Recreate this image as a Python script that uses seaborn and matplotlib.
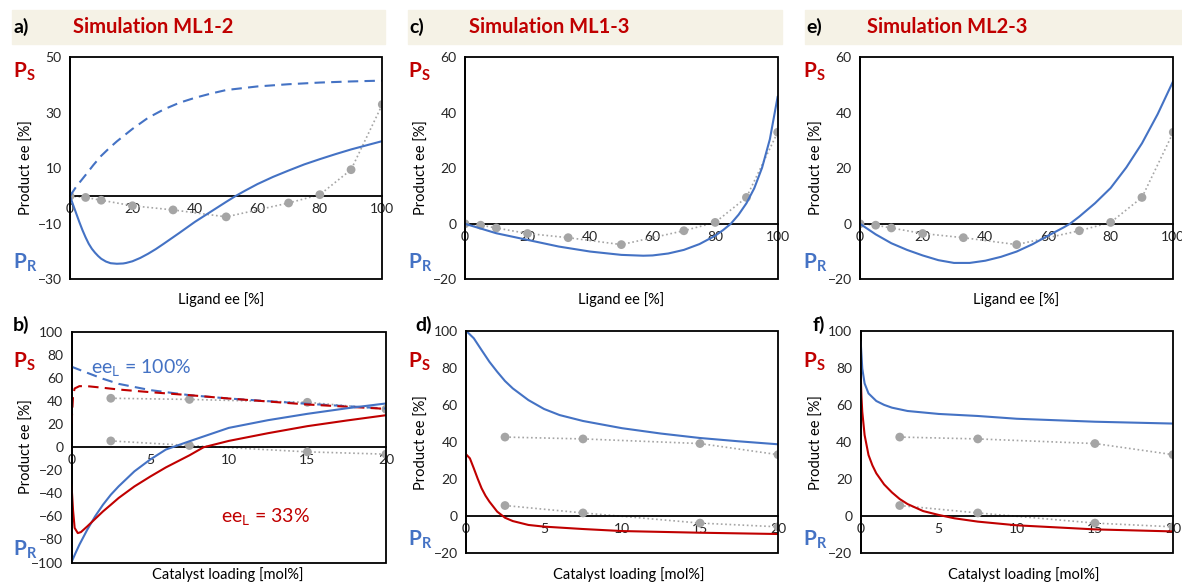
import matplotlib
matplotlib.use("Agg")
import matplotlib.pyplot as plt
import seaborn as sns
from matplotlib.patches import Rectangle

# ---------------- data ----------------
lig_x = [0, 5, 10, 20, 33, 50, 70, 80, 90, 100]
lig_exp = [0, -0.5, -1.5, -3.5, -5, -7.5, -2.5, 0.5, 9.5, 33]

cat_x = [2.5, 7.5, 15, 20]
cat_exp_100 = [42.5, 41.5, 39, 33]
cat_exp_33 = [5.5, 1.5, -4, -6]

# panel a (ML1-2 vs ligand ee)
a_sol_x = [0, 1, 2, 3, 4, 5, 6, 7, 8, 9, 10, 11.5, 13, 15, 17, 18, 20, 22.5, 25, 27.5, 30, 35, 40,
           45, 50, 53, 56, 60, 65, 70, 75, 80, 85, 90, 95, 100]
a_sol_y = [0, -3.2, -6.3, -9.4, -12.3, -14.9, -17.2, -19.0, -20.4, -21.6, -22.6, -23.6, -24.2,
           -24.4, -24.3, -24.1, -23.5, -22.3, -20.8, -19.1, -17.2, -13.3, -9.3, -5.7, -2.1, 0, 1.9,
           4.3, 6.9, 9.2, 11.4, 13.3, 15.1, 16.8, 18.3, 19.8]
a_dash_x = [0, 2, 5, 7.5, 10, 12.5, 15, 20, 25, 30, 35, 40, 45, 50, 60, 70, 80, 90, 100]
a_dash_y = [0, 3.4, 7.6, 11.2, 14.5, 17.2, 19.7, 24.2, 28.2, 31.2, 33.6, 35.4, 36.9, 38.2, 39.5,
            40.3, 40.9, 41.3, 41.6]

# panel c (ML1-3 vs ligand ee)
c_x = [0, 10, 20, 30, 40, 50, 57, 60, 65, 70, 75, 80, 82.5, 85, 87.5, 90, 92.5, 95, 97.5, 100]
c_y = [0, -3.4, -5.8, -8.2, -10, -11.2, -11.5, -11.4, -10.7, -9.4, -7.3, -4.3, -2.3, 0, 3.3,
       7.4, 12.8, 20.2, 30.5, 45.9]

# panel e (ML2-3 vs ligand ee)
e_x = [0, 5, 10, 15, 20, 25, 30, 35, 40, 45, 50, 55, 60, 65, 67, 70, 75, 80, 85, 90, 95, 100]
e_y = [0, -3.8, -7, -9.4, -11.4, -13.1, -14.1, -14.1, -13.3, -11.9, -10, -7.4, -4.3, -1.3, 0,
       2.6, 7.4, 12.9, 20.3, 29, 39.5, 51.5]

# panel b (ML1-2 vs catalyst loading)
b_b_x = [0, 0.25, 0.5, 1, 1.5, 2, 2.5, 3, 4, 5, 6, 7.5, 10, 12.5, 15, 17.5, 20]
b_b_y = [-99.7, -92, -84.6, -71.6, -60, -49.9, -41.2, -33.9, -20.9, -10.7, -2, 5.2, 16.8, 23.5,
         29, 33.8, 38]
b_r_x = [0, 0.1, 0.2, 0.4, 0.6, 1, 1.5, 2, 2.5, 3, 4, 5, 6, 7.5, 8.4, 10, 12.5, 15, 17.5, 20]
b_r_y = [-32.5, -55, -70, -74.5, -73.6, -68.7, -62.2, -55.7, -49.9, -44, -34, -25.5, -17.5, -7,
         0, 5.5, 12.2, 18.3, 23.2, 27.8]
b_bd_x = [0, 1, 2, 3, 5, 7.5, 10, 15, 20]
b_bd_y = [69.9, 64.6, 59.4, 55, 49.6, 45.2, 42.3, 37.7, 33.6]
b_rd_x = [0, 0.1, 0.2, 0.5, 1, 2, 3, 5, 7.5, 10, 15, 20]
b_rd_y = [20, 45, 51, 53, 53, 51.6, 50.1, 47.8, 45.2, 42.3, 37.1, 33.3]

# panel d (ML1-3 vs catalyst loading)
d_b_x = [0, 0.5, 1, 1.5, 2, 2.5, 3, 4, 5, 6, 7.5, 10, 12.5, 15, 17.5, 20]
d_b_y = [100, 95.9, 89.5, 83.2, 77.8, 72.8, 68.8, 62.5, 57.7, 54.4, 51.2, 47.3, 44.4, 42, 40.2, 38.6]
d_r_x = [0, 0.25, 0.5, 0.75, 1, 1.25, 1.5, 2, 2.5, 3, 4, 5, 7.5, 10, 15, 20]
d_r_y = [33.2, 31, 25.6, 20, 14.8, 10.8, 7.6, 2.2, -1.1, -2.9, -5, -5.9, -7.2, -8.3, -9.2, -9.9]

# panel f (ML2-3 vs catalyst loading)
f_b_x = [0, 0.1, 0.25, 0.5, 1, 1.5, 2, 3, 5, 7.5, 10, 15, 20]
f_b_y = [94, 79.6, 71.5, 66.1, 62, 59.9, 58.4, 56.6, 55, 53.9, 52.4, 50.8, 49.8]
f_r_x = [0, 0.05, 0.1, 0.25, 0.5, 0.75, 1, 1.5, 2, 2.5, 3, 4, 5, 6, 7.5, 10, 15, 20]
f_r_y = [76, 64, 56.2, 43.6, 32.8, 27.2, 22.9, 16.9, 12.6, 9, 6.3, 2.5, 0.4, -1.4, -3.2, -5.2,
         -7.4, -8.5]

titles = ["Simulation ML1-2", "Simulation ML1-3", "Simulation ML2-3"]
top_letters = ["a)", "c)", "e)"]
bot_letters = ["b)", "d)", "f)"]

# ---------------- style ----------------
sns.set_style("white")
plt.rcParams["font.family"] = ["Lato", "DejaVu Sans"]
plt.rcParams["mathtext.fontset"] = "custom"
plt.rcParams["mathtext.rm"] = "Lato"
plt.rcParams["mathtext.bf"] = "Lato:bold"
plt.rcParams["mathtext.it"] = "Lato:italic"

BLUE = "#4472C4"
RED = "#C00000"
GREY = "#A5A5A5"
TXT = "#262626"
BANNER = "#F5F2E6"

W, H = 1182, 582
fig = plt.figure(figsize=(W / 100, H / 100), dpi=100)


def fx(x):
    return x / W


def fy(y):
    return 1 - y / H


def make_ax(l, t, r, b):
    return fig.add_axes([fx(l), fy(b), (r - l) / W, (b - t) / H])


def style_ax(ax, xlim, ylim, xt, yt):
    ax.set_xlim(*xlim)
    ax.set_ylim(*ylim)
    ax.set_xticks(xt)
    ax.set_yticks(yt)
    ax.spines["bottom"].set_position(("data", 0))
    ax.spines["top"].set_visible(False)
    ax.spines["right"].set_visible(False)
    for s in ("bottom", "left"):
        ax.spines[s].set_color("black")
        ax.spines[s].set_linewidth(1.3)
    ax.add_patch(Rectangle((0, 0), 1, 1, transform=ax.transAxes, fill=False,
                           ec="black", lw=1.3, clip_on=False, zorder=5))
    ax.tick_params(axis="both", direction="out", length=4, width=1, colors="black",
                   labelsize=10, labelcolor=TXT, pad=2)
    ax.tick_params(axis="x", pad=1)
    ax.set_xlabel("")
    ax.set_ylabel("")


def exp_series(ax, x, y):
    sns.lineplot(x=x, y=y, ax=ax, color=GREY, linestyle=(0, (1, 1.6)), lw=1.2, zorder=2)
    sns.scatterplot(x=x, y=y, ax=ax, color=GREY, s=40, edgecolor="none", zorder=3)


def line(ax, x, y, color, dashed=False):
    ls = (0, (5, 3)) if dashed else "-"
    sns.lineplot(x=x, y=y, ax=ax, color=color, lw=1.5, linestyle=ls, zorder=4)


# ---------------- banners ----------------
banners = [(12, 385), (408, 782), (805, 1182)]
title_x = [73, 469, 867]
for (l, r), tx, lt, tt in zip(banners, title_x, top_letters, titles):
    fig.patches.append(Rectangle((fx(l), fy(44)), (r - l) / W, 34 / H,
                                 transform=fig.transFigure, color=BANNER, zorder=0))
    fig.text(fx(l + 1), fy(27), lt, fontsize=14, fontweight="bold", color="black",
             va="center", ha="left")
    fig.text(fx(tx), fy(27), tt, fontsize=14.5, fontweight="bold", color=RED,
             va="center", ha="left")

# ---------------- top panels ----------------
ax_a = make_ax(70, 57.3, 382.3, 279.3)
ax_c = make_ax(465, 57.3, 777.7, 279.3)
ax_e = make_ax(860, 57.3, 1173.3, 279.3)

exp_series(ax_a, lig_x, lig_exp)
line(ax_a, a_dash_x, a_dash_y, BLUE, dashed=True)
line(ax_a, a_sol_x, a_sol_y, BLUE)
style_ax(ax_a, (0, 100), (-30, 50), range(0, 101, 20), range(-30, 51, 20))

exp_series(ax_c, lig_x, lig_exp)
line(ax_c, c_x, c_y, BLUE)
style_ax(ax_c, (0, 100), (-20, 60), range(0, 101, 20), range(-20, 61, 20))

exp_series(ax_e, lig_x, lig_exp)
line(ax_e, e_x, e_y, BLUE)
style_ax(ax_e, (0, 100), (-20, 60), range(0, 101, 20), range(-20, 61, 20))

# ---------------- bottom panels ----------------
ax_b = make_ax(71.5, 332, 386, 562.5)
ax_d = make_ax(466, 330.7, 778, 552.7)
ax_f = make_ax(860.7, 330.7, 1173, 552.7)

exp_series(ax_b, cat_x, cat_exp_100)
exp_series(ax_b, cat_x, cat_exp_33)
line(ax_b, b_bd_x, b_bd_y, BLUE, dashed=True)
line(ax_b, b_rd_x, b_rd_y, RED, dashed=True)
line(ax_b, b_b_x, b_b_y, BLUE)
line(ax_b, b_r_x, b_r_y, RED)
style_ax(ax_b, (0, 20), (-100, 100), range(0, 21, 5), range(-100, 101, 20))
ax_b.text(0.062, 0.845, r"ee$_{\mathrm{L}}$ = 100%", transform=ax_b.transAxes,
          color=BLUE, fontsize=14, va="center", ha="left")
ax_b.text(0.475, 0.2, r"ee$_{\mathrm{L}}$ = 33%", transform=ax_b.transAxes,
          color=RED, fontsize=14, va="center", ha="left")

exp_series(ax_d, cat_x, cat_exp_100)
exp_series(ax_d, cat_x, cat_exp_33)
line(ax_d, d_b_x, d_b_y, BLUE)
line(ax_d, d_r_x, d_r_y, RED)
style_ax(ax_d, (0, 20), (-20, 100), range(0, 21, 5), range(-20, 101, 20))

exp_series(ax_f, cat_x, cat_exp_100)
exp_series(ax_f, cat_x, cat_exp_33)
line(ax_f, f_b_x, f_b_y, BLUE)
line(ax_f, f_r_x, f_r_y, RED)
style_ax(ax_f, (0, 20), (-20, 100), range(0, 21, 5), range(-20, 101, 20))

# ---------------- side / axis labels ----------------
# top row
for lx, xc in zip([13, 408, 803], [221, 621, 1016]):
    fig.text(fx(lx), fy(72), r"$\mathbf{P}_{\mathbf{S}}$", color=RED, fontsize=15,
             va="center", ha="left")
    fig.text(fx(lx), fy(263), r"$\mathbf{P}_{\mathbf{R}}$", color=BLUE, fontsize=15,
             va="center", ha="left")
    fig.text(fx(lx + 14), fy(168), "Product ee [%]", rotation=90, fontsize=10.5,
             color="black", va="center", ha="center")
    fig.text(fx(xc), fy(300), "Ligand ee [%]", fontsize=10.5, color="black",
             va="center", ha="center")

# bottom row
for lx, blt, xc, ps_y, pr_y, yl_y, lt_x in zip(
        [13, 408, 803], bot_letters, [228, 629, 1024], [362, 362, 362], [550, 540, 540],
        [447, 443, 443], [13, 415, 813]):
    fig.text(fx(lx), fy(ps_y), r"$\mathbf{P}_{\mathbf{S}}$", color=RED, fontsize=15,
             va="center", ha="left")
    fig.text(fx(lx), fy(pr_y), r"$\mathbf{P}_{\mathbf{R}}$", color=BLUE, fontsize=15,
             va="center", ha="left")
    fig.text(fx(lx + 14), fy(yl_y), "Product ee [%]", rotation=90, fontsize=10.5,
             color="black", va="center", ha="center")
    fig.text(fx(xc), fy(575), "Catalyst loading [mol%]", fontsize=10.5, color="black",
             va="center", ha="center")
    fig.text(fx(lt_x), fy(325), blt, fontsize=14, fontweight="bold", color="black",
             va="center", ha="left")

fig.savefig("out.png", dpi=100)
